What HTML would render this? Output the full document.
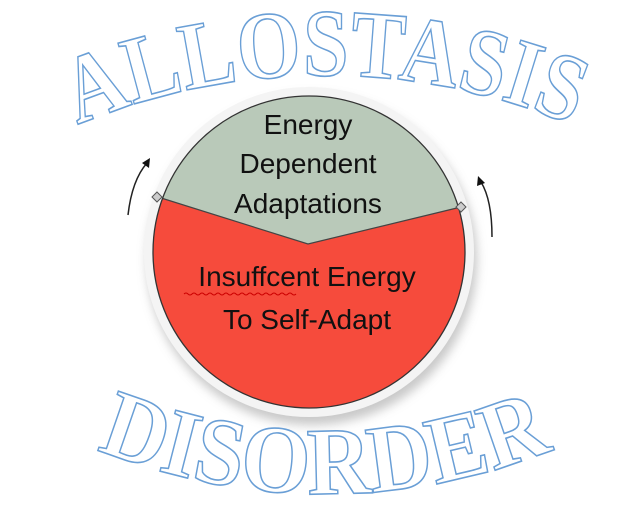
<!DOCTYPE html>
<html><head><meta charset="utf-8"><style>
html,body{margin:0;padding:0;background:#fff;width:624px;height:529px;overflow:hidden}
</style></head><body>
<svg width="624" height="529" viewBox="0 0 624 529" xmlns="http://www.w3.org/2000/svg">
<defs>
<filter id="sh" x="-20%" y="-20%" width="140%" height="140%"><feGaussianBlur stdDeviation="5"/></filter>
<clipPath id="cc"><circle cx="309" cy="252" r="156"/></clipPath>
<path id="top" d="M 25 150 A 640 640 0 0 1 625 150"/>
<path id="bot" d="M 50 428 A 608 608 0 0 0 600 428"/>
</defs>
<circle cx="312" cy="260" r="165" fill="#bbb" filter="url(#sh)" opacity="0.8"/>
<circle cx="309" cy="252" r="165" fill="#f4f4f4"/>
<g clip-path="url(#cc)">
<rect x="140" y="90" width="340" height="330" fill="#f64b3c"/>
<polygon points="140,90 480,90 480,204 461,207 308,244 158,197 140,190" fill="#b9c9b9"/>
<polyline points="150,195 158,197 308,244 461,207 470,205" fill="none" stroke="#444" stroke-width="1.2"/>
</g>
<circle cx="309" cy="252" r="156" fill="none" stroke="#333" stroke-width="1.3"/>
<path d="M157 192 L162 197 L157 202 L152 197Z" fill="#ccc" stroke="#555" stroke-width="1"/>
<path d="M461 202 L466 207 L461 212 L456 207Z" fill="#ccc" stroke="#555" stroke-width="1"/>
<path d="M128 215 Q132 180 147 163" fill="none" stroke="#222" stroke-width="1.5"/>
<path d="M150 158 L142 163 L149 168Z" fill="#111"/>
<path d="M492 237 Q492 200 481 182" fill="none" stroke="#222" stroke-width="1.5"/>
<path d="M478 176 L477 186 L485 183Z" fill="#111"/>
<g font-family="Liberation Sans, sans-serif" font-size="28" text-anchor="middle" fill="#111">
<text x="308" y="134">Energy</text>
<text x="308" y="173">Dependent</text>
<text x="308" y="213">Adaptations</text>
<text x="307" y="286">Insuffcent Energy</text>
<text x="307" y="329">To Self-Adapt</text>
</g>
<path d="M184 294 q2 -2 4 0 t4 0 t4 0 t4 0 t4 0 t4 0 t4 0 t4 0 t4 0 t4 0 t4 0 t4 0 t4 0 t4 0 t4 0 t4 0 t4 0 t4 0 t4 0 t4 0 t4 0 t4 0 t4 0 t4 0 t4 0 t4 0 t4 0 t4 0" fill="none" stroke="#c00" stroke-width="1"/>
<g font-family="Liberation Serif, serif" font-weight="bold" font-size="96" fill="#fff" stroke="#6a9fd6" stroke-width="1.6">
<text><textPath href="#top" startOffset="50%" text-anchor="middle" textLength="508" lengthAdjust="spacingAndGlyphs">ALLOSTASIS</textPath></text>
<text><textPath href="#bot" startOffset="50%" text-anchor="middle" textLength="468" lengthAdjust="spacingAndGlyphs">DISORDER</textPath></text>
</g>
</svg>
</body></html>
